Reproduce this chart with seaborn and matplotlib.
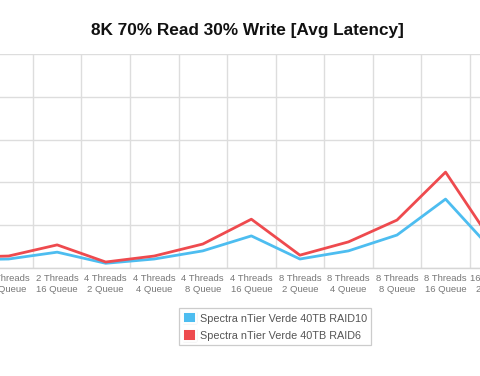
import matplotlib
matplotlib.use("Agg")
import matplotlib.pyplot as plt
import seaborn as sns
import pandas as pd
from matplotlib.patches import Patch
from matplotlib.legend_handler import HandlerTuple

categories = [
    "2 Threads\n4 Queue", "2 Threads\n8 Queue", "2 Threads\n16 Queue",
    "4 Threads\n2 Queue", "4 Threads\n4 Queue", "4 Threads\n8 Queue", "4 Threads\n16 Queue",
    "8 Threads\n2 Queue", "8 Threads\n4 Queue", "8 Threads\n8 Queue", "8 Threads\n16 Queue",
    "16 Threads\n2 Queue",
]
raid10 = [0.19, 0.21, 0.37, 0.11, 0.21, 0.40, 0.75, 0.21, 0.40, 0.77, 1.61, 0.37]
raid6 = [0.25, 0.28, 0.54, 0.14, 0.28, 0.56, 1.14, 0.30, 0.61, 1.12, 2.24, 0.54]
series_names = ["Spectra nTier Verde 40TB RAID10", "Spectra nTier Verde 40TB RAID6"]
colors = ["#4dbdf0", "#ee4a4e"]
y_ticks = [0, 1, 2, 3, 4, 5]

sns.set_theme(style="white")
plt.rcParams["font.family"] = ["Liberation Sans", "DejaVu Sans"]

df = pd.DataFrame({
    "cat": categories * 2,
    "val": raid10 + raid6,
    "series": [series_names[0]] * len(categories) + [series_names[1]] * len(categories),
})

W, H = 480, 376
fig = plt.figure(figsize=(W / 100, H / 100), dpi=100)
# axes extends beyond the figure to reproduce the cropped view
ax_left_px, ax_right_px = -100, 580
ax_top_px, ax_bot_px = 54, 268
ax = fig.add_axes([ax_left_px / W, (H - ax_bot_px) / H,
                   (ax_right_px - ax_left_px) / W, (ax_bot_px - ax_top_px) / H])

sns.lineplot(data=df, x="cat", y="val", hue="series", palette=colors, sort=False,
             linewidth=2, ax=ax, legend=False)

ax.set_yticks(y_ticks)
ax.set_xticks(range(len(categories)))
ax.set_xticklabels(categories, fontsize=6.8, color="#777777", linespacing=1.3)
ax.set_xticks([i + 0.5 for i in range(-2, len(categories))], minor=True)

step = 48.55
first_px = 8.6
ax.set_xlim(1 + (ax_left_px - first_px) / step, 1 + (ax_right_px - first_px) / step)
ax.set_ylim(y_ticks[0], y_ticks[-1])

ax.tick_params(axis="x", which="both", length=0, pad=4.5)
ax.tick_params(axis="y", length=0, labelleft=False)
ax.grid(False)
ax.grid(True, axis="x", which="minor", color="#dddddd", linewidth=1)
ax.grid(True, axis="y", which="major", color="#dddddd", linewidth=1)
for s in ["top", "left", "right"]:
    ax.spines[s].set_visible(False)
ax.spines["bottom"].set_color("#d6d6d6")
ax.spines["bottom"].set_linewidth(1)
ax.set_xlabel("")
ax.set_ylabel("")

fig.text(247.5 / W, 1 - 30 / H, "8K 70% Read 30% Write [Avg Latency]",
         ha="center", va="center", fontsize=12.4, fontweight="bold", color="#111111")

handles = [(Patch(facecolor="white", edgecolor="#b8b8b8", linewidth=0.9),
            Patch(facecolor=c, edgecolor="white", linewidth=1.4)) for c in colors]
leg = fig.legend(handles, series_names, loc="center", bbox_to_anchor=(275 / W, 1 - 326.5 / H),
                 handler_map={tuple: HandlerTuple(ndivide=1)}, fontsize=7.8,
                 frameon=True, fancybox=False, edgecolor="#cccccc", framealpha=1,
                 handlelength=1.2, handleheight=1.2, handletextpad=0.35,
                 labelspacing=0.55, borderpad=0.4, borderaxespad=0)
leg.get_frame().set_linewidth(0.9)
for t in leg.get_texts():
    t.set_color("#555555")

fig.savefig("out.png", dpi=100)
